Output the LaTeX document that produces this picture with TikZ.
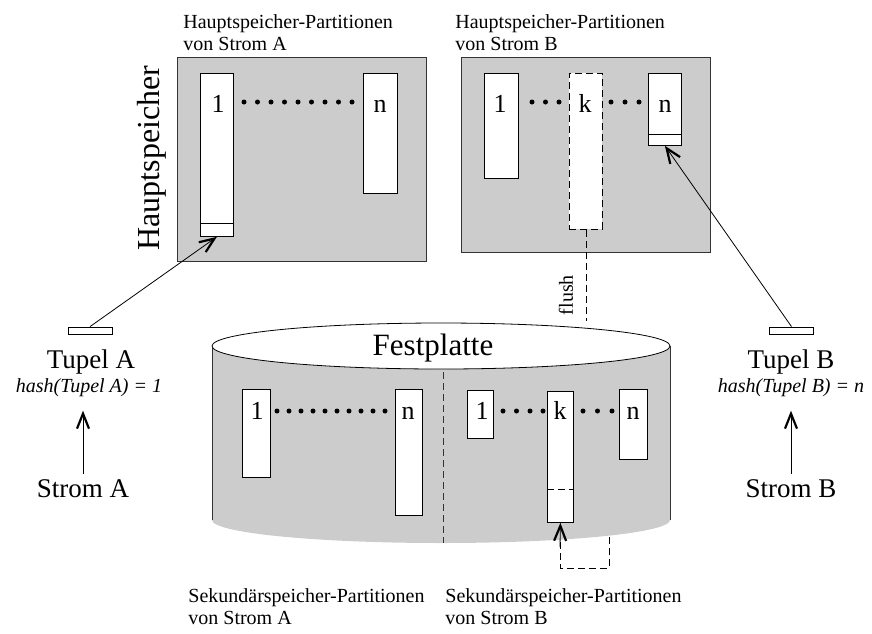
\documentclass[tikz,border=0pt]{standalone}
\usepackage{fontspec}
\setmainfont{Liberation Serif}
\usetikzlibrary{arrows.meta}
\tikzset{
  mem/.style={draw=black!80,fill=black!20,inner sep=0pt,anchor=north west},
  part/.style={draw,fill=white,inner sep=0pt,anchor=north west},
  plbl/.style={font=\fontsize{26}{28}\selectfont,inner sep=0pt,anchor=base},
  capt/.style={font=\fontsize{20}{22}\selectfont,align=left,anchor=north west,inner sep=0pt},
  big/.style={font=\fontsize{27}{30}\selectfont,inner sep=0pt,anchor=base},
  hsh/.style={font=\fontsize{20}{22}\selectfont\itshape,inner sep=0pt,anchor=base},
  dsh/.style={dash pattern=on 7pt off 4pt},
  tup/.style={draw,fill=white,minimum width=44pt,minimum height=7pt,inner sep=0pt},
  barb/.style={-{Straight Barb[length=15pt,width=12pt,line width=2.2pt]}}
}
\begin{document}
\begin{tikzpicture}[x=1pt,y=-1pt,line width=0.8pt]
\useasboundingbox (0,0) rectangle (872,633);
% Hauptspeicher
\node[mem,minimum width=249pt,minimum height=204pt] (ma) at (177,57) {};
\node[mem,minimum width=249pt,minimum height=195pt] (mb) at (461,57) {};
\node[font=\fontsize{32}{34}\selectfont,rotate=90,inner sep=0pt] (hs) at (152,158) {Hauptspeicher};
\node[capt] (ca) at (183,14) {Hauptspeicher-Partitionen\\von Strom A};
\node[capt] (cb) at (455,14) {Hauptspeicher-Partitionen\\von Strom B};
\node[part,minimum width=33pt,minimum height=163pt] (a1) at (200,73) {};
\draw (a1.south west) ++(0,-13) -- ++(33,0);
\node[part,minimum width=34pt,minimum height=120pt] (an) at (363,73) {};
\node[plbl] (la1) at (218,112) {1};
\node[plbl] (lan) at (380,112) {n};
\foreach \i in {0,...,8}
  \fill (244+\i*13.5,102) circle (2.5pt);
\node[part,minimum width=34pt,minimum height=105pt] (b1) at (484,73) {};
\node[part,dsh,minimum width=33pt,minimum height=156pt] (bk) at (569,73) {};
\node[part,minimum width=33pt,minimum height=72pt] (bn) at (648,73) {};
\draw (bn.south west) ++(0,-11) -- ++(33,0);
\node[plbl] (lb1) at (500,112) {1};
\node[plbl] (lbk) at (585,112) {k};
\node[plbl] (lbn) at (665,112) {n};
\foreach \x in {532,545.5,559,611,625,639}
  \fill (\x,102) circle (2.5pt);
% Festplatte
\draw[dsh] (560,520) rectangle (609,568);
\fill[black!20] (212,346) rectangle (670,520);
\fill[black!20] (441,520) ellipse [x radius=229,y radius=23];
\draw[black!80] (212,346) -- (212,520) (670,346) -- (670,520);
\draw[fill=white] (441,346) ellipse [x radius=229,y radius=23];
\node[font=\fontsize{31}{33}\selectfont,inner sep=0pt,anchor=base] (fp) at (433,355) {Festplatte};
\draw[dsh,black!80] (443,372) -- (443,543);
\node[part,minimum width=28pt,minimum height=88pt] (d1) at (242,389) {};
\node[part,minimum width=27pt,minimum height=126pt] (dn) at (395,389) {};
\node[part,minimum width=26pt,minimum height=48pt] (e1) at (467,390) {};
\node[part,minimum width=26pt,minimum height=131pt] (ek) at (547,391) {};
\draw[dsh,line width=0.6pt] (ek.south west) ++(0,-34) -- ++(26,0);
\node[part,minimum width=28pt,minimum height=70pt] (en) at (619,389) {};
\node[plbl] (ld1) at (257,419) {1};
\node[plbl] (ldn) at (408,419) {n};
\node[plbl] (le1) at (482,419) {1};
\node[plbl] (lek) at (560,419) {k};
\node[plbl] (len) at (633,419) {n};
\foreach \i in {0,...,9}
  \fill (277+\i*12,411) circle (2.5pt);
\foreach \x in {503,516.5,530,543,583,597.5,612}
  \fill (\x,411) circle (2.5pt);
\node[capt] (sa2) at (188,588) {Sekund\"arspeicher-Partitionen\\von Strom A};
\node[capt] (sb2) at (445,588) {Sekund\"arspeicher-Partitionen\\von Strom B};
% flush
\coordinate (fe) at (bk.south |- 0,321);
\draw[dsh] (bk.south) -- (fe);
\node[font=\fontsize{20}{22}\selectfont,rotate=90,inner sep=0pt] (fl) at (566,295) {flush};
\coordinate (ks) at (560,547);
\draw[barb] (ks) -- (ek.south);
% Tupel
\node[tup] (ta) at (90,330.5) {};
\node[tup] (tb) at (791.5,330.5) {};
\draw[barb] (ta.north) -- (a1.south);
\draw[barb] (tb.north) -- (bn.south);
\node[big] (tua) at (91,368) {Tupel A};
\node[hsh] (ha) at (89,392) {hash(Tupel A) = 1};
\node[big] (sa) at (83,497) {Strom A};
\draw[barb,shorten <=5pt,shorten >=14pt] (sa.north) -- (sa.north |- ha.south);
\node[big] (tub) at (791,368) {Tupel B};
\node[hsh] (hb) at (791,392) {hash(Tupel B) = n};
\node[big] (sb) at (791,497) {Strom B};
\draw[barb,shorten <=5pt,shorten >=14pt] (sb.north) -- (sb.north |- hb.south);
\end{tikzpicture}
\end{document}
